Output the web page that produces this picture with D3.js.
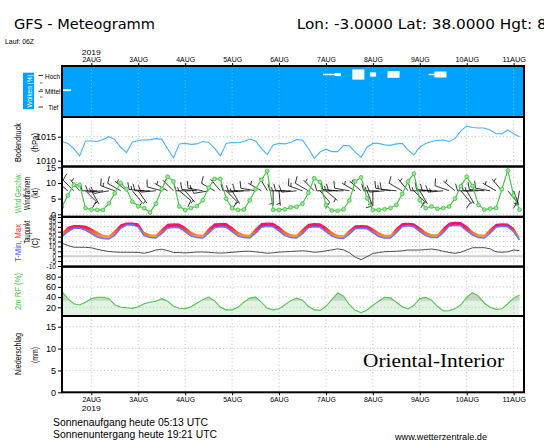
<!DOCTYPE html>
<html><head><meta charset="utf-8">
<script src="https://cdn.jsdelivr.net/npm/d3@7"></script>
<style>
body{margin:0;background:#fff;}
svg{display:block;font-family:"Liberation Sans",Arial,sans-serif;}
</style></head><body>
<svg id="chart" width="544" height="441"></svg>
<script>
// GFS meteogram, 3-hourly steps from 1 Aug 2019 09Z
const START = Date.UTC(2019, 7, 1, 9);
const STEP_H = 3;

const DAY_NUMS   = [2, 3, 4, 5, 6, 7, 8, 9, 10, 11];
const DAY_LABELS = ["2AUG", "3AUG", "4AUG", "5AUG", "6AUG", "7AUG", "8AUG", "9AUG", "10AUG", "11AUG"];

const PRES_TICKS = [1010, 1015];
const WIND_TICKS = [0, 5, 10, 15];
const TEMP_TICKS = [-10, -5, 0, 5, 10, 15, 20, 25, 30, 35, 40];
const RH_TICKS   = [20, 40, 60, 80];
const PREC_TICKS = [0, 5, 10, 15];

const CLOUD_LEVELS = ["Hoch", "Mittel", "Tief"];
// [step index, cover %]
const CLOUD_HIGH = [[45, 12], [46, 12], [47, 25], [50, 85], [51, 85], [53, 35], [56, 55], [57, 55], [63, 12], [64, 50], [65, 50]];
const CLOUD_MID  = [[0, 15], [1, 15]];
const CLOUD_LOW  = [];

const PRESSURE = [
  1014.0, 1013.6, 1012.5, 1011.0, 1014.1, 1014.1, 1014.0, 1014.4, 1015.0, 1014.4,
  1012.8, 1011.7, 1013.9, 1014.2, 1014.3, 1014.4, 1014.6, 1014.5, 1012.5, 1010.6,
  1013.5, 1013.6, 1013.4, 1013.5, 1014.0, 1013.8, 1012.6, 1011.0, 1013.6, 1013.8,
  1013.75, 1014.0, 1014.5, 1014.1, 1012.5, 1011.3, 1013.3, 1013.6, 1013.5, 1013.8,
  1014.4, 1014.3, 1012.6, 1010.5, 1011.8, 1012.4, 1011.9, 1011.9, 1013.2, 1013.1,
  1011.8, 1010.7, 1012.8, 1013.6, 1013.6, 1013.3, 1013.2, 1013.5, 1013.6, 1012.2,
  1011.2, 1012.8, 1013.6, 1014.0, 1014.2, 1014.3, 1014.0, 1014.6, 1016.2, 1017.2,
  1016.9, 1016.8, 1016.8, 1016.4, 1015.6, 1015.6, 1016.4, 1015.6, 1015.0];

const WIND_KT = [
  2.4, 6.0, 9.4, 9.4, 2.0, 1.5, 1.4, 1.4, 3.5, 6.7,
  10.0, 8.0, 4.0, 2.6, 2.0, 0.6, 3.4, 8.0, 12.0, 10.5,
  2.5, 1.4, 2.0, 2.6, 4.5, 8.5, 11.3, 11.3, 5.0, 1.9,
  1.4, 1.5, 4.4, 8.0, 11.0, 13.8, 1.4, 1.4, 1.6, 2.2,
  2.4, 3.4, 6.8, 11.5, 10.3, 3.0, 1.2, 1.1, 1.6, 4.4,
  10.5, 11.8, 5.1, 1.4, 1.4, 1.6, 2.0, 3.0, 6.5, 10.5,
  13.0, 4.5, 2.0, 2.5, 1.8, 2.0, 2.5, 5.0, 9.0, 12.0,
  9.0, 3.0, 1.5, 1.8, 2.0, 8.0, 14.0, 6.0, 1.5];

// wind barbs: direction (deg, from) and barb speed (kt)
const BARB_DIR = [
  300, 310, 315, 320, 135, 150, 270, 265,
  260, 290, 300, 310, 140, 145, 275, 270,
  265, 285, 300, 315, 130, 140, 270, 275,
  280, 260, 300, 320, 135, 150, 270, 265,
  270, 280, 300, 330, 180, 175, 270, 270,
  265, 290, 300, 315, 140, 130, 270, 275,
  270, 280, 300, 310, 160, 180, 270, 265,
  280, 275, 300, 320, 135, 150, 270, 275,
  270, 265, 290, 310, 140, 150, 270, 270,
  275, 280, 300, 320, 140, 160, 190];
const BARB_KT = [
  10, 10, 10, 5, 10, 5, 10, 15,
  10, 15, 10, 5, 10, 5, 15, 10,
  10, 10, 5, 5, 10, 5, 15, 10,
  15, 10, 10, 5, 10, 5, 10, 15,
  10, 10, 5, 5, 5, 5, 15, 10,
  10, 15, 10, 5, 10, 5, 10, 15,
  10, 10, 5, 5, 5, 10, 15, 10,
  15, 10, 10, 5, 10, 5, 15, 10,
  10, 15, 10, 5, 10, 5, 10, 15,
  10, 10, 5, 5, 10, 5, 5];

const T_MAX = [
  24.0, 30.0, 31.8, 31.8, 31.3, 28.5, 25.0, 22.0,
  21.0, 26.5, 32.5, 34.5, 34.4, 33.5, 25.0, 22.5,
  22.0, 28.0, 33.0, 33.6, 33.4, 30.0, 25.0, 22.5,
  22.0, 28.5, 33.5, 34.0, 33.8, 30.0, 25.0, 22.5,
  22.0, 28.5, 33.8, 34.4, 34.2, 30.5, 25.5, 22.5,
  22.0, 28.0, 33.2, 33.8, 33.6, 30.0, 25.0, 22.0,
  21.5, 27.0, 31.5, 31.8, 31.5, 28.5, 24.5, 22.0,
  22.0, 29.0, 34.0, 34.2, 33.5, 29.5, 25.0, 22.5,
  22.5, 29.0, 34.5, 35.2, 35.0, 31.0, 25.5, 22.5,
  22.0, 28.0, 33.0, 33.6, 33.4, 29.0, 20.0];
const T_MIN = [
  19.9, 25.0, 28.5, 28.5, 26.7, 23.0, 19.5, 18.0,
  17.5, 21.5, 28.5, 31.8, 32.0, 29.8, 21.0, 19.0,
  18.5, 23.0, 28.5, 29.5, 29.0, 25.0, 20.5, 19.0,
  18.5, 23.5, 29.0, 30.0, 29.5, 25.0, 20.5, 19.0,
  18.5, 23.5, 29.5, 30.5, 30.0, 25.5, 21.0, 19.0,
  18.5, 23.0, 29.0, 30.0, 29.5, 25.0, 20.5, 18.5,
  18.0, 22.5, 28.0, 28.5, 28.0, 24.0, 20.0, 18.5,
  18.5, 24.0, 30.0, 31.0, 30.0, 25.0, 21.0, 19.0,
  19.0, 24.0, 30.5, 31.5, 31.0, 26.0, 21.5, 19.0,
  18.5, 23.5, 29.5, 30.5, 30.0, 25.0, 16.5];
const DEWPOINT = [
  13.2, 10.9, 9.2, 9.1, 9.1, 8.6, 7.0, 5.8, 4.8, 4.3,
  4.0, 4.0, 4.0, 3.8, 3.0, 4.3, 6.3, 7.1, 5.8, 3.8,
  3.8, 3.3, 3.8, 4.3, 4.3, 4.0, 3.5, 3.2, 3.5, 4.0,
  4.5, 5.0, 5.0, 4.5, 3.8, 3.0, 3.5, 4.2, 4.5, 4.8,
  5.2, 5.5, 5.0, 4.0, 4.5, 5.5, 6.5, 7.5, 6.5, 3.5,
  -1.0, -3.5, -0.5, 2.8, 3.8, 4.6, 4.8, 5.0, 5.5, 6.3,
  6.3, 6.3, 6.8, 7.3, 6.5, 5.0, 3.8, 3.0, 4.0, 6.3,
  8.6, 8.7, 8.7, 7.5, 4.5, 4.0, 4.5, 6.3, 5.7];

const RH = [
  50.6, 37, 27, 24.5, 30, 37, 39.6, 39.6, 37, 25,
  20, 19, 18, 21, 27, 30, 32, 37, 32, 22,
  18, 17.5, 21, 27.8, 35, 40, 33, 20, 15, 15,
  20, 30, 38, 40, 30, 18, 15, 17, 25, 33,
  38, 34, 22, 15, 14, 22, 35, 48, 42, 25,
  14, 9.5, 14.7, 24, 32, 39.6, 38.5, 30, 21, 16.7,
  24, 37, 39.6, 34, 22, 13, 13.5, 17, 25, 40,
  48.6, 42, 28, 20, 16, 17, 27, 38, 44];

const X0 = 62, X1 = 524;
const PANELS = { cloud: [66, 117], pres: [117, 166.5], wind: [166.5, 216.8], temp: [216.8, 266.6], rh: [266.6, 316], prec: [316, 392.3] };

const svg = d3.select("#chart");
const defs = svg.append("defs");

const x = d3.scaleUtc()
  .domain([new Date(Date.UTC(2019, 7, 1, 9)), new Date(Date.UTC(2019, 7, 11, 5, 18))])
  .range([X0, X1]);
const times = PRESSURE.map((d, i) => new Date(START + i * STEP_H * 3600e3));
const dayTicks = DAY_NUMS.map(d => new Date(Date.UTC(2019, 7, d)));
const stepW = x(times[1]) - x(times[0]);

const yP = d3.scaleLinear().domain([1010, 1015]).range([160.7, 136.7]);
const yW = d3.scaleLinear().domain([0, 15]).range([214.3, 167.3]);
const yT = d3.scaleLinear().domain([-10, 40]).range([266, 217]);
const yR = d3.scaleLinear().domain([20, 80]).range([307.3, 276.7]);
const yN = d3.scaleLinear().domain([0, 15]).range([392.3, 326.7]);
const yC = d3.scalePoint().domain(CLOUD_LEVELS).range([74.5, 106]);

function panel(key) {
  const [t, b] = PANELS[key];
  defs.append("clipPath").attr("id", "clip-" + key)
    .append("rect").attr("x", X0).attr("y", t).attr("width", X1 - X0).attr("height", b - t);
  return svg.append("g").attr("clip-path", `url(#clip-${key})`);
}

function grid(g, key, scale, ticks, col) {
  const [t, b] = PANELS[key];
  g.selectAll(null).data(ticks).enter().append("line")
    .attr("x1", X0).attr("x2", X1).attr("y1", d => scale(d)).attr("y2", d => scale(d))
    .attr("stroke", col || "#b4b4b4").attr("stroke-width", 0.8).attr("stroke-dasharray", "1,2.5");
  g.selectAll(null).data(dayTicks).enter().append("line")
    .attr("x1", d => x(d)).attr("x2", d => x(d)).attr("y1", t).attr("y2", b)
    .attr("stroke", col || "#b4b4b4").attr("stroke-width", 0.8).attr("stroke-dasharray", "1,2.5");
}

function yAxis(scale, ticks, size, fmt) {
  svg.append("g").attr("transform", `translate(${X0},0)`)
    .call(d3.axisLeft(scale).tickValues(ticks).tickSize(4).tickPadding(2).tickFormat(fmt || (d => d)))
    .call(ax => { ax.select(".domain").remove();
      ax.selectAll("line").attr("stroke", "#000");
      ax.selectAll("text").style("font-size", size + "px").style("fill", "#000").attr("font-family", null); });
}

function vlabel(cx, cy, len, parts, size) {
  const t = svg.append("text").attr("transform", `translate(${cx},${cy}) rotate(-90)`)
    .attr("text-anchor", "middle").attr("dy", "0.35em").style("font-size", (size || 8.5) + "px")
    .attr("textLength", len).attr("lengthAdjust", "spacingAndGlyphs");
  parts.forEach(([s, c]) => t.append("tspan").attr("fill", c).text(s));
}

function text(tx, ty, s, size, len, extra) {
  const t = svg.append("text").attr("x", tx).attr("y", ty).style("font-size", size + "px").text(s);
  if (len) t.attr("textLength", len).attr("lengthAdjust", "spacingAndGlyphs");
  if (extra) extra(t);
  return t;
}

// ---- header
text(14, 29, "GFS - Meteogramm", 13.5, 141, t => t.attr("font-family", "DejaVu Sans"));
text(296.7, 29, "Lon: -3.0000 Lat: 38.0000 Hgt: 8", 13.5, 250, t => t.attr("font-family", "DejaVu Sans"));
text(5, 44.3, "Lauf: 06Z", 7.5, 29);

// ---- clouds
(function drawClouds() {
  const [t, b] = PANELS.cloud;
  svg.append("rect").attr("x", X0).attr("y", t).attr("width", X1 - X0).attr("height", b - t).attr("fill", "#00a2ff");
  const g = panel("cloud");
  grid(g, "cloud", yC, [], "#7fd0ff");
  const layers = [["Hoch", CLOUD_HIGH], ["Mittel", CLOUD_MID], ["Tief", CLOUD_LOW]];
  layers.forEach(([lev, arr]) => {
    g.selectAll(null).data(arr).enter().append("rect")
      .attr("x", d => x(times[d[0]]) - stepW / 2).attr("width", stepW + 0.3)
      .attr("y", d => yC(lev) - d[1] * 0.06).attr("height", d => Math.max(1.2, d[1] * 0.12))
      .attr("fill", "#fff");
  });
  svg.append("rect").attr("x", 23).attr("y", 72.7).attr("width", 11).attr("height", 36.5).attr("fill", "#00a2ff");
  vlabel(28.8, 91, 33, [["Wolken (%)", "#fff"]], 8);
  CLOUD_LEVELS.forEach(lev => {
    svg.append("line").attr("x1", 38.5).attr("x2", 43).attr("y1", yC(lev) + 1).attr("y2", yC(lev) + 1).attr("stroke", "#000").attr("stroke-width", 0.8);
    text(lev === "Tief" ? 48.3 : 45, yC(lev) + 4.2, lev, 8, lev === "Hoch" ? 15 : lev === "Mittel" ? 15.5 : 10);
  });
  [83, 89.5, 97].forEach(v => svg.append("line").attr("x1", 40).attr("x2", 42.5).attr("y1", v).attr("y2", v).attr("stroke", "#444").attr("stroke-width", 0.8));
})();

// ---- pressure
(function drawPressure() {
  const g = panel("pres");
  grid(g, "pres", yP, PRES_TICKS);
  g.append("path").datum(PRESSURE).attr("fill", "none").attr("stroke", "#45b5ff").attr("stroke-width", 1.1)
    .attr("d", d3.line().x((d, i) => x(times[i])).y(d => yP(d)));
  yAxis(yP, PRES_TICKS, 9);
  vlabel(18.5, 142.5, 39, [["Bodendruck", "#000"]]);
  vlabel(35.5, 142.5, 19, [["(hPa)", "#000"]]);
})();

// ---- wind
function drawBarb(g, px, py, dir, kt) {
  const a = dir * Math.PI / 180, dx = Math.sin(a), dy = -Math.cos(a);
  const L = 15, tx = px + L * dx, ty = py + L * dy;
  const rx = -dy, ry = dx;
  let p = `M${px},${py}L${tx},${ty}`;
  const n = Math.round(kt / 5), full = Math.floor(n / 2), half = n % 2;
  let pos = 0;
  for (let k = 0; k < full; k++) {
    const bx = tx - pos * dx, by = ty - pos * dy;
    p += `M${bx},${by}l${7 * rx + 2 * dx},${7 * ry + 2 * dy}`;
    pos += 2.6;
  }
  if (half) {
    if (!full) pos = 2.6;
    const bx = tx - pos * dx, by = ty - pos * dy;
    p += `M${bx},${by}l${3.6 * rx + 1 * dx},${3.6 * ry + 1 * dy}`;
  }
  g.append("path").attr("d", p).attr("fill", "none").attr("stroke", "#000").attr("stroke-width", 0.8);
}

(function drawWind() {
  const g = panel("wind");
  grid(g, "wind", yW, WIND_TICKS);
  BARB_DIR.forEach((d, i) => drawBarb(g, x(times[i]), yW(7.5), d, BARB_KT[i]));
  g.append("path").datum(WIND_KT).attr("fill", "none").attr("stroke", "#3cc43c").attr("stroke-width", 1.1)
    .attr("d", d3.line().x((d, i) => x(times[i])).y(d => yW(d)));
  g.selectAll(null).data(WIND_KT).enter().append("circle")
    .attr("cx", (d, i) => x(times[i])).attr("cy", d => yW(d)).attr("r", 1.9)
    .attr("fill", "#9be89b").attr("stroke", "#3cc43c").attr("stroke-width", 0.8);
  yAxis(yW, WIND_TICKS, 9);
  vlabel(18.5, 193, 40, [["Wind Geschw.", "#3cc43c"]]);
  vlabel(27.5, 193.5, 33, [["Windfahnen", "#000"]]);
  vlabel(35.5, 193, 10, [["(kt)", "#000"]]);
})();

// ---- temperature
(function drawTemp() {
  const g = panel("temp");
  grid(g, "temp", yT, TEMP_TICKS);
  g.append("line").attr("x1", X0).attr("x2", X1).attr("y1", yT(0)).attr("y2", yT(0))
    .attr("stroke", "#cfcfcf").attr("stroke-width", 2);
  const grad = defs.append("linearGradient").attr("id", "tgrad").attr("gradientUnits", "userSpaceOnUse")
    .attr("x1", 0).attr("x2", 0).attr("y1", yT(34)).attr("y2", yT(20));
  [[0, "#ff0a80"], [0.35, "#ff1f4f"], [0.7, "#ff6a22"], [1, "#ff9a30"]]
    .forEach(([o, c]) => grad.append("stop").attr("offset", o).attr("stop-color", c));
  g.append("path").datum(T_MAX).attr("fill", "url(#tgrad)")
    .attr("d", d3.area().x((d, i) => x(times[i])).y0((d, i) => yT(T_MIN[i])).y1(d => yT(d)));
  g.append("path").datum(T_MIN).attr("fill", "none").attr("stroke", "#6477ff").attr("stroke-width", 1.5)
    .attr("d", d3.line().x((d, i) => x(times[i])).y(d => yT(d)));
  g.append("path").datum(DEWPOINT).attr("fill", "none").attr("stroke", "#3a3a3a").attr("stroke-width", 0.9)
    .attr("d", d3.line().x((d, i) => x(times[i])).y(d => yT(d)));
  yAxis(yT, TEMP_TICKS, 6.5);
  vlabel(18.5, 243, 38, [["T-Min, ", "#4b4bff"], ["Max", "#ff3030"]]);
  vlabel(27.5, 232, 23, [["Taupunkt", "#000"]]);
  vlabel(35.5, 243, 10, [["(C)", "#000"]]);
})();

// ---- relative humidity
(function drawRH() {
  const g = panel("rh");
  const area = d3.area().x((d, i) => x(times[i])).y0(PANELS.rh[1]).y1(d => yR(d));
  g.append("path").datum(RH).attr("fill", "#e3f3e3").attr("d", area);
  defs.append("clipPath").attr("id", "rh-dark")
    .append("rect").attr("x", X0).attr("y", PANELS.rh[0]).attr("width", X1 - X0).attr("height", yR(33) - PANELS.rh[0]);
  g.append("path").datum(RH).attr("fill", "#c5d8c5").attr("clip-path", "url(#rh-dark)").attr("d", area);
  grid(g, "rh", yR, RH_TICKS);
  g.append("path").datum(RH).attr("fill", "none").attr("stroke", "#4cc94c").attr("stroke-width", 1.1)
    .attr("d", d3.line().x((d, i) => x(times[i])).y(d => yR(d)));
  yAxis(yR, RH_TICKS, 9);
  vlabel(18.5, 291.5, 37, [["2m RF (%)", "#3cc43c"]]);
})();

// ---- precipitation (none)
(function drawPrec() {
  const g = panel("prec");
  grid(g, "prec", yN, PREC_TICKS.slice(1));
  yAxis(yN, PREC_TICKS, 9);
  vlabel(18.5, 354, 42, [["Niederschlag", "#000"]]);
  vlabel(35.5, 355, 16, [["(mm)", "#000"]]);
  text(363, 367, "Oriental-Interior", 19.5, 141, t => t.attr("font-family", "Liberation Serif"));
})();

// ---- panel frames
Object.values(PANELS).forEach(([t, b]) => {
  svg.append("rect").attr("x", X0).attr("y", t).attr("width", X1 - X0).attr("height", b - t)
    .attr("fill", "none").attr("stroke", "#000").attr("stroke-width", 2);
});

// ---- time axes
function timeAxis(axis, yPos) {
  svg.append("g").attr("transform", `translate(0,${yPos})`)
    .call(axis(x).tickValues(dayTicks).tickSize(3).tickPadding(1).tickFormat((d, i) => DAY_LABELS[i]))
    .call(ax => { ax.select(".domain").remove();
      ax.selectAll("line").attr("stroke", "#000");
      ax.selectAll("text").style("font-size", "8px").style("fill", "#000").attr("font-family", null)
        .attr("textLength", (d, i) => DAY_LABELS[i].length * 4.7).attr("lengthAdjust", "spacingAndGlyphs"); });
}
timeAxis(d3.axisTop, PANELS.cloud[0]);
timeAxis(d3.axisBottom, PANELS.prec[1]);
text(x(dayTicks[0]), 54.5, "2019", 8, 19, t => t.attr("text-anchor", "middle"));
text(x(dayTicks[0]), 411, "2019", 8, 19, t => t.attr("text-anchor", "middle"));

// ---- footer
text(53, 425.5, "Sonnenaufgang heute 05:13 UTC", 10, 155);
text(53, 438, "Sonnenuntergang heute 19:21 UTC", 10, 164);
text(395, 440, "www.wetterzentrale.de", 8.5, 92);
</script></body></html>
